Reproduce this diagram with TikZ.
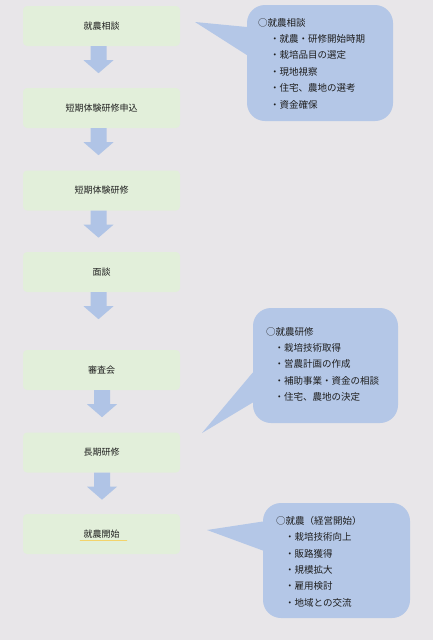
\documentclass[tikz,border=0pt]{standalone}
\usepackage{fontspec}
\newfontfamily\jpfont{Noto Sans CJK JP}
\usetikzlibrary{positioning}

\definecolor{bgcol}{HTML}{E8E6E9}
\definecolor{stepgreen}{HTML}{E2EFDA}
\definecolor{noteblue}{HTML}{B4C7E7}
\definecolor{arrowblue}{HTML}{B0C4E6}
\definecolor{inkgrey}{HTML}{1E1E1E}
\definecolor{markyellow}{HTML}{F3D36B}

\newcommand{\bul}[1]{\hspace*{#1}・}

\begin{document}
\begin{tikzpicture}
  [x=1pt, y=-1pt,
   stepbox/.style={rectangle, rounded corners=4pt, fill=stepgreen, minimum width=157pt,
                   minimum height=40pt, text=inkgrey, font=\jpfont\fontsize{9}{11}\selectfont},
   notebox/.style={rectangle, rounded corners=18pt, fill=noteblue},
   notetext/.style={anchor=north west, align=left, inner sep=0pt, text=inkgrey,
                    font=\jpfont\fontsize{9.5}{16.4}\selectfont},
   flowarrow/.style={fill=arrowblue}]

  \fill[bgcol] (0,0) rectangle (433,640);

  % steps
  \node[stepbox] (s1) at (101.5,26)  {就農相談};
  \node[stepbox] (s2) at (101.5,108) {短期体験研修申込};
  \node[stepbox] (s3) at (101.5,190.5) {短期体験研修};
  \node[stepbox] (s4) at (101.5,272) {面談};
  \node[stepbox] (s5) at (101.5,370) {審査会};
  \node[stepbox] (s6) at (101.5,452.5) {長期研修};
  \node[stepbox] (s7) at (101.5,534) {就農開始};

  \draw[markyellow, line width=1.6pt, line cap=round]
    ([xshift=-21pt, yshift=-6.5pt]s7.center) -- ([xshift=25pt, yshift=-6.5pt]s7.center);

  % block arrows below the steps
  \foreach \from/\dx in {s1/-11,s2/-11,s3/-11,s4/-11,s5/-7.5,s6/-7.5}
    \fill[flowarrow] ([xshift=\dx pt]\from.south) -- ++(16,0) -- ++(0,14) -- ++(7,0)
      -- ++(-15,13) -- ++(-15,-13) -- ++(7,0) -- cycle;

  % notes
  \node[notebox, minimum width=146pt, minimum height=116pt] (c1) at (320,63) {};
  \coordinate (p1) at (195,22);
  \fill[noteblue] (p1) -- ([yshift=36pt]c1.west) -- ([yshift=8pt]c1.west) -- cycle;
  \node[notetext] (t1) at (258,18) {○就農相談\\
    \bul{12pt}就農・研修開始時期\\
    \bul{12pt}栽培品目の選定\\
    \bul{12pt}現地視察\\
    \bul{12pt}住宅、農地の選考\\
    \bul{12pt}資金確保};

  \node[notebox, minimum width=145pt, minimum height=115pt] (c2) at (325.5,365.5) {};
  \coordinate (p2) at (202,433);
  \fill[noteblue] (p2) -- ([yshift=-7pt]c2.west) -- ([yshift=-37pt]c2.west) -- cycle;
  \node[notetext] (t2) at (266,327) {○就農研修\\
    \bul{8.5pt}栽培技術取得\\
    \bul{8.5pt}営農計画の作成\\
    \bul{8.5pt}補助事業・資金の相談\\
    \bul{8.5pt}住宅、農地の決定};

  \node[notebox, minimum width=147pt, minimum height=115pt] (c3) at (336.5,560.5) {};
  \coordinate (p3) at (207,530);
  \fill[noteblue] (p3) -- ([yshift=39pt]c3.west) -- ([yshift=10pt]c3.west) -- cycle;
  \node[notetext] (t3) at (276,516) {○就農（経営開始）\\
    \bul{9pt}栽培技術向上\\
    \bul{9pt}販路獲得\\
    \bul{9pt}規模拡大\\
    \bul{9pt}雇用検討\\
    \bul{9pt}地域との交流};
\end{tikzpicture}
\end{document}
